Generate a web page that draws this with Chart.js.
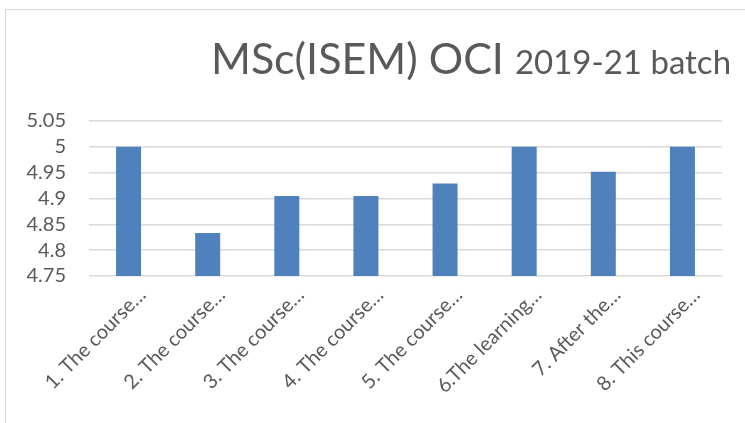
<!DOCTYPE html>
<html>
<head>
<meta charset="utf-8">
<script src="https://cdn.jsdelivr.net/npm/chart.js@4"></script>
<style>
  html, body { margin: 0; padding: 0; background: #fff; }
  #wrap { position: relative; width: 745px; height: 423px; }
</style>
</head>
<body>
<div id="wrap"><canvas id="chart" width="745" height="423"></canvas></div>
<script>
const titleMain = "MSc(ISEM) OCI";
const titleSub = "2019-21 batch";
const categories = [
  "1. The course…",
  "2. The course…",
  "3. The course…",
  "4. The course…",
  "5. The course…",
  "6.The learning…",
  "7. After the…",
  "8. This course…"
];
const scores = [5, 4.833, 4.905, 4.905, 4.929, 5, 4.952, 5];
const yMin = 4.75;
const yMax = 5.05;
const yStep = 0.05;

const textColor = "#595959";
const fontFamily = "Lato, 'Open Sans', sans-serif";

// outer frame + two-size title, drawn by hand
const frameAndTitle = {
  id: "frameAndTitle",
  beforeDraw(chart) {
    const ctx = chart.ctx;
    ctx.save();
    ctx.strokeStyle = "#d9d9d9";
    ctx.lineWidth = 1;
    ctx.strokeRect(5.5, 9.5, 800, 500);
    ctx.restore();
  },
  afterDraw(chart) {
    const ctx = chart.ctx;
    ctx.save();
    ctx.fillStyle = textColor;
    ctx.textBaseline = "alphabetic";
    ctx.textAlign = "left";
    const bigFont = "43px " + fontFamily;
    const smallFont = "33px " + fontFamily;
    ctx.font = bigFont;
    const w1 = ctx.measureText(titleMain + " ").width;
    ctx.font = smallFont;
    const w2 = ctx.measureText(titleSub).width;
    const x0 = 471 - (w1 + w2) / 2;
    ctx.font = bigFont;
    ctx.fillText(titleMain + " ", x0, 74);
    ctx.font = smallFont;
    ctx.fillText(titleSub, x0 + w1, 74);
    ctx.restore();
  }
};

new Chart(document.getElementById("chart"), {
  type: "bar",
  data: {
    labels: categories,
    datasets: [
      {
        label: "Score",
        data: scores,
        backgroundColor: "#4f81bd",
        borderWidth: 0,
        categoryPercentage: 1,
        barPercentage: 0.316
      }
    ]
  },
  options: {
    responsive: false,
    animation: false,
    devicePixelRatio: 1,
    layout: { padding: { top: 121, right: 23, bottom: 0, left: 0 } },
    plugins: {
      legend: { display: false },
      title: { display: false },
      tooltip: { enabled: false }
    },
    scales: {
      x: {
        grid: { display: false, drawTicks: false },
        border: { display: false },
        afterFit(scale) { scale.height = 147; },
        ticks: {
          autoSkip: false,
          maxRotation: 45,
          minRotation: 45,
          padding: 7,
          labelOffset: 14,
          color: textColor,
          font: { family: fontFamily, size: 20 }
        }
      },
      y: {
        min: yMin,
        max: yMax,
        afterFit(scale) { scale.width = 89; },
        grid: { color: "#d9d9d9", lineWidth: 1.5, drawTicks: false },
        border: { display: false },
        ticks: {
          stepSize: yStep,
          autoSkip: false,
          padding: 23,
          color: textColor,
          font: { family: fontFamily, size: 20 },
          callback: v => String(+v.toFixed(2))
        }
      }
    }
  },
  plugins: [frameAndTitle]
});
</script>
</body>
</html>
